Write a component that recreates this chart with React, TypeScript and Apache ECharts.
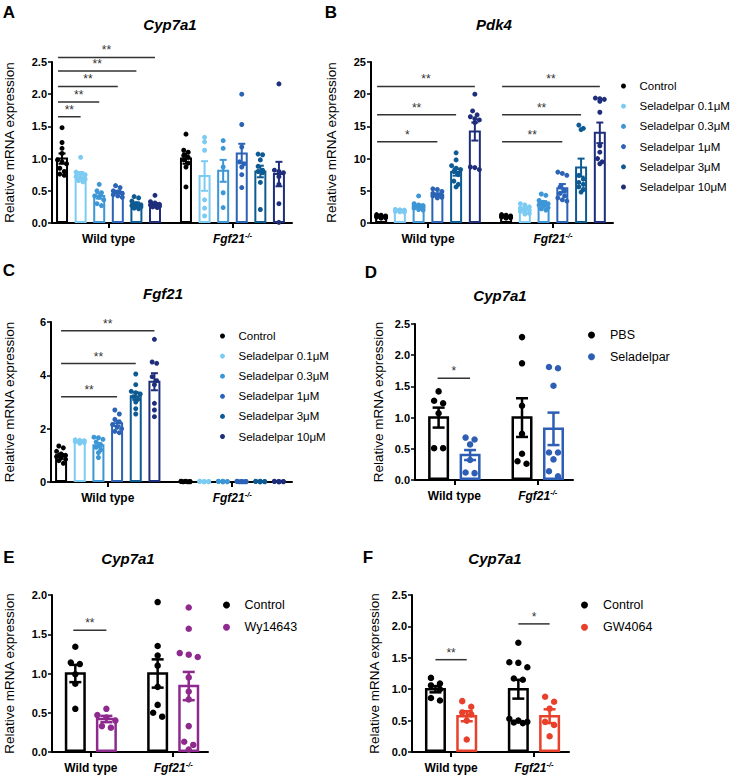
import React, { useEffect, useRef } from "react";
import * as echarts from "echarts";

const FONT = '"Liberation Sans", Arial, Helvetica, sans-serif';
const Y_NAME = "Relative mRNA expression";
const GENOTYPES = ["Wild type", "Fgf21-/-"];

const SELA_GROUPS = ["Control", "Seladelpar 0.1μM", "Seladelpar 0.3μM", "Seladelpar 1μM", "Seladelpar 3μM", "Seladelpar 10μM"];
const SELA_COLORS = ["#000000", "#7CCBF2", "#3D96D6", "#2B63B6", "#0E5B93", "#1F2E7C"];

// ---------- Panel A: Cyp7a1 (Seladelpar dose) ----------
const A_Y_TICKS = ["0.0", "0.5", "1.0", "1.5", "2.0", "2.5"];
const A_MEAN_WT = [1.0, 0.75, 0.42, 0.48, 0.3, 0.29];
const A_SEM_WT = [0.08, 0.04, 0.04, 0.02, 0.02, 0.02];
const A_MEAN_KO = [1.0, 0.73, 0.81, 1.08, 0.8, 0.76];
const A_SEM_KO = [0.08, 0.23, 0.17, 0.15, 0.09, 0.19];
const A_PTS_WT = [
  [1.48, 1.25, 1.16, 1.08, 0.98, 0.95, 0.92, 0.85, 0.8, 0.76, 0.74],
  [1.02, 0.79, 0.77, 0.75, 0.72, 0.7, 0.68, 0.66, 0.64],
  [0.6, 0.5, 0.47, 0.42, 0.4, 0.36, 0.3, 0.27],
  [0.58, 0.55, 0.5, 0.48, 0.46, 0.44, 0.42, 0.4],
  [0.41, 0.39, 0.34, 0.3, 0.28, 0.27, 0.26, 0.25, 0.23, 0.22],
  [0.43, 0.33, 0.31, 0.29, 0.28, 0.27, 0.26, 0.25, 0.24],
];
const A_PTS_KO = [
  [1.38, 1.13, 1.1, 1.05, 1.02, 0.98, 0.93, 0.87, 0.56],
  [1.33, 1.26, 1.13, 0.36, 0.23, 0.11],
  [1.28, 1.16, 0.87, 0.47, 0.24],
  [2.0, 1.53, 1.18, 0.95, 0.92, 0.87, 0.75, 0.55],
  [1.07, 1.06, 0.98, 0.88, 0.82, 0.8, 0.78, 0.63, 0.21],
  [2.16, 0.82, 0.8, 0.78, 0.72, 0.6, 0.3, 0.01],
];
// [genotype, fromBar, toBar, y, label]
const A_SIG: [number, number, number, number, string][] = [
  [0, 0, 1, 1.65, "**"],
  [0, 0, 2, 1.88, "**"],
  [0, 0, 3, 2.12, "**"],
  [0, 0, 4, 2.36, "**"],
  [0, 0, 5, 2.57, "**"],
];

// ---------- Panel B: Pdk4 ----------
const B_Y_TICKS = ["0", "5", "10", "15", "20", "25"];
const B_MEAN_WT = [1.0, 2.0, 2.6, 4.4, 7.9, 14.2];
const B_SEM_WT = [0.05, 0.06, 0.25, 0.2, 0.55, 1.4];
const B_MEAN_KO = [1.0, 2.2, 3.1, 5.4, 8.6, 14.0];
const B_SEM_KO = [0.05, 0.2, 0.3, 0.65, 1.4, 1.6];
const B_PTS_WT = [
  [1.3, 1.2, 1.1, 1.05, 1.0, 0.95, 0.9, 0.85, 0.8, 0.75],
  [2.1, 2.05, 2.0, 1.95, 1.9, 1.85, 1.8, 1.75, 1.7],
  [4.2, 3.0, 2.8, 2.7, 2.6, 2.5, 2.4, 2.3, 2.1, 2.0],
  [5.3, 5.2, 4.9, 4.6, 4.4, 4.3, 4.2, 4.1, 4.0, 3.9],
  [10.9, 9.8, 8.9, 8.5, 8.3, 8.0, 7.5, 6.5, 6.0, 5.6],
  [20.0, 17.4, 16.8, 16.5, 16.2, 16.0, 15.6, 8.7, 8.6, 8.3],
];
const B_PTS_KO = [
  [1.3, 1.2, 1.1, 1.05, 1.0, 0.95, 0.9, 0.85, 0.8, 0.75],
  [3.0, 2.8, 2.5, 2.3, 2.1, 2.0, 1.8, 1.6, 1.5, 1.4],
  [4.5, 4.3, 3.5, 3.2, 3.0, 2.8, 2.6, 2.4, 2.2, 2.0],
  [7.9, 7.7, 7.4, 5.6, 5.0, 4.6, 4.2, 3.9, 3.6, 3.4],
  [15.2, 14.7, 14.5, 7.4, 6.8, 6.3, 6.0, 5.6, 5.2, 4.8],
  [19.4, 19.3, 19.2, 18.9, 17.2, 12.0, 11.0, 10.0, 9.5, 9.2],
];
const B_SIG: [number, number, number, number, string][] = [
  [0, 0, 3, 12.6, "*"],
  [0, 0, 4, 16.8, "**"],
  [0, 0, 5, 21.2, "**"],
  [1, 0, 3, 12.6, "**"],
  [1, 0, 4, 16.8, "**"],
  [1, 0, 5, 21.2, "**"],
];

// ---------- Panel C: Fgf21 ----------
const C_Y_TICKS = ["0", "2", "4", "6"];
const C_MEAN_WT = [1.0, 1.51, 1.38, 2.2, 3.22, 3.76];
const C_SEM_WT = [0.05, 0.02, 0.08, 0.1, 0.14, 0.32];
const C_MEAN_KO = [0.02, 0.02, 0.02, 0.02, 0.02, 0.02];
const C_SEM_KO = [0.0, 0.0, 0.0, 0.0, 0.0, 0.0];
const C_PTS_WT = [
  [1.35, 1.28, 1.15, 1.05, 1.0, 0.95, 0.9, 0.85, 0.8, 0.7],
  [1.58, 1.56, 1.55, 1.52, 1.5, 1.48, 1.45],
  [1.68, 1.66, 1.6, 1.5, 1.4, 1.3, 1.2, 1.1, 0.92],
  [2.7, 2.55, 2.35, 2.25, 2.15, 2.05, 2.0, 1.9, 1.85],
  [4.05, 3.65, 3.4, 3.35, 3.3, 3.2, 3.1, 3.0, 2.75, 2.55],
  [5.35, 4.5, 4.45, 3.95, 3.8, 3.65, 2.95, 2.7, 2.45],
];
const C_PTS_KO = [
  [0.03, 0.03, 0.02, 0.02, 0.02, 0.01, 0.01, 0.01],
  [0.03, 0.02, 0.02, 0.02, 0.01, 0.01, 0.01],
  [0.03, 0.03, 0.02, 0.02, 0.01, 0.01, 0.01],
  [0.03, 0.02, 0.02, 0.02, 0.01, 0.01, 0.01, 0.01],
  [0.03, 0.03, 0.02, 0.02, 0.01, 0.01, 0.01],
  [0.03, 0.02, 0.02, 0.02, 0.01, 0.01, 0.01],
];
const C_SIG: [number, number, number, number, string][] = [
  [0, 0, 3, 3.2, "**"],
  [0, 0, 4, 4.44, "**"],
  [0, 0, 5, 5.67, "**"],
];

// ---------- Panel D: Cyp7a1, PBS vs Seladelpar ----------
const D_GROUPS = ["PBS", "Seladelpar"];
const D_COLORS = ["#000000", "#2D5EB4"];
const D_Y_TICKS = ["0.0", "0.5", "1.0", "1.5", "2.0", "2.5"];
const D_MEAN_WT = [1.0, 0.4];
const D_SEM_WT = [0.16, 0.08];
const D_MEAN_KO = [1.0, 0.82];
const D_SEM_KO = [0.31, 0.26];
const D_PTS_WT = [
  [1.42, 1.27, 1.23, 1.07, 0.51, 0.51],
  [0.68, 0.65, 0.57, 0.32, 0.12, 0.11],
];
const D_PTS_KO = [
  [2.29, 1.87, 1.19, 0.74, 0.42, 0.3, 0.26],
  [1.81, 1.79, 1.51, 0.44, 0.44, 0.33, 0.14, 0.06],
];
const D_SIG: [number, number, number, number, string][] = [[0, 0, 1, 1.63, "*"]];

// ---------- Panel E: Cyp7a1, Control vs Wy14643 ----------
const E_GROUPS = ["Control", "Wy14643"];
const E_COLORS = ["#000000", "#8E2A8E"];
const E_Y_TICKS = ["0.0", "0.5", "1.0", "1.5", "2.0"];
const E_MEAN_WT = [1.0, 0.42];
const E_SEM_WT = [0.11, 0.04];
const E_MEAN_KO = [1.0, 0.84];
const E_SEM_KO = [0.18, 0.18];
const E_PTS_WT = [
  [1.34, 1.14, 1.12, 0.99, 0.87, 0.55],
  [0.55, 0.47, 0.44, 0.4, 0.33, 0.31],
];
const E_PTS_KO = [
  [1.91, 1.35, 1.23, 1.1, 0.83, 0.6, 0.5, 0.45],
  [1.84, 1.57, 1.26, 1.24, 1.21, 0.95, 0.77, 0.67, 0.33, 0.13, 0.09, 0.03],
];
const E_SIG: [number, number, number, number, string][] = [[0, 0, 1, 1.55, "**"]];

// ---------- Panel F: Cyp7a1, Control vs GW4064 ----------
const F_GROUPS = ["Control", "GW4064"];
const F_COLORS = ["#000000", "#E8402A"];
const F_Y_TICKS = ["0.0", "0.5", "1.0", "1.5", "2.0", "2.5"];
const F_MEAN_WT = [1.0, 0.57];
const F_SEM_WT = [0.05, 0.08];
const F_MEAN_KO = [1.0, 0.57];
const F_SEM_KO = [0.15, 0.11];
const F_PTS_WT = [
  [1.18, 1.09, 1.06, 1.0, 0.86, 0.82],
  [0.81, 0.72, 0.63, 0.6, 0.5, 0.2],
];
const F_PTS_KO = [
  [1.74, 1.43, 1.42, 1.35, 1.17, 1.15, 0.53, 0.5, 0.48, 0.47, 0.46],
  [0.88, 0.8, 0.69, 0.48, 0.43, 0.25],
];
const F_SIG: [number, number, number, number, string][] = [
  [0, 0, 1, 1.47, "**"],
  [1, 0, 1, 2.04, "*"],
];

// ---------- layout (positions only) ----------
const LAYOUT6 = {
  slots: [
    [0, 1, 2, 3, 4, 5],
    [6.667, 7.667, 8.667, 9.667, 10.667, 11.667],
  ],
  xMin: -0.54,
  xMax: 12.37,
};
const LAYOUT2 = {
  slots: [
    [0, 1],
    [2.65, 3.65],
  ],
  xMin: -0.75,
  xMax: 4.27,
};

type Panel = {
  letter: string;
  letterPos: [number, number];
  title: string;
  titlePos: [number, number];
  grid: { left: number; top: number; width: number; height: number };
  yTicks: string[];
  yNameGap: number;
  groups: string[];
  colors: string[];
  means: number[][];
  sems: number[][];
  points: number[][][];
  sig: [number, number, number, number, string][];
  layout: { slots: number[][]; xMin: number; xMax: number };
  barW: number;
  barLine: number;
  capW: number;
  sym: number;
  step: number;
  perRow: number;
  sigStart: number;
  legend?: { left: number; top: number; itemWidth: number; itemHeight: number; fontSize: number; lineHeight: number; gap: number };
};

const PANELS: Panel[] = [
  {
    letter: "A", letterPos: [9, 12], title: "Cyp7a1", titlePos: [170, 24],
    grid: { left: 52, top: 62, width: 240, height: 161 }, yTicks: A_Y_TICKS, yNameGap: 36,
    groups: SELA_GROUPS, colors: SELA_COLORS,
    means: [A_MEAN_WT, A_MEAN_KO], sems: [A_SEM_WT, A_SEM_KO], points: [A_PTS_WT, A_PTS_KO], sig: A_SIG,
    layout: LAYOUT6, barW: 10, barLine: 2, capW: 7, sym: 5, step: 4.5, perRow: 3, sigStart: -4,
  },
  {
    letter: "B", letterPos: [331, 12], title: "Pdk4", titlePos: [494, 24],
    grid: { left: 371, top: 62, width: 242, height: 161 }, yTicks: B_Y_TICKS, yNameGap: 33,
    groups: SELA_GROUPS, colors: SELA_COLORS,
    means: [B_MEAN_WT, B_MEAN_KO], sems: [B_SEM_WT, B_SEM_KO], points: [B_PTS_WT, B_PTS_KO], sig: B_SIG,
    layout: LAYOUT6, barW: 10, barLine: 2, capW: 7, sym: 5, step: 4.5, perRow: 3, sigStart: -4,
    legend: { left: 621, top: 79, itemWidth: 22, itemHeight: 5, fontSize: 11.5, lineHeight: 14, gap: 6.2 },
  },
  {
    letter: "C", letterPos: [9, 270], title: "Fgf21", titlePos: [163, 293],
    grid: { left: 51, top: 322, width: 241, height: 160 }, yTicks: C_Y_TICKS, yNameGap: 35,
    groups: SELA_GROUPS, colors: SELA_COLORS,
    means: [C_MEAN_WT, C_MEAN_KO], sems: [C_SEM_WT, C_SEM_KO], points: [C_PTS_WT, C_PTS_KO], sig: C_SIG,
    layout: LAYOUT6, barW: 10, barLine: 2, capW: 7, sym: 5, step: 4.5, perRow: 3, sigStart: 0,
    legend: { left: 220, top: 329, itemWidth: 22, itemHeight: 5, fontSize: 11.5, lineHeight: 14, gap: 6.1 },
  },
  {
    letter: "D", letterPos: [371, 272], title: "Cyp7a1", titlePos: [500, 295],
    grid: { left: 415, top: 324, width: 158, height: 156 }, yTicks: D_Y_TICKS, yNameGap: 30,
    groups: D_GROUPS, colors: D_COLORS,
    means: [D_MEAN_WT, D_MEAN_KO], sems: [D_SEM_WT, D_SEM_KO], points: [D_PTS_WT, D_PTS_KO], sig: D_SIG,
    layout: LAYOUT2, barW: 18.5, barLine: 2.5, capW: 12, sym: 6.5, step: 9, perRow: 3, sigStart: -1,
    legend: { left: 588, top: 327.5, itemWidth: 27, itemHeight: 7, fontSize: 12.5, lineHeight: 15, gap: 6.7 },
  },
  {
    letter: "E", letterPos: [9, 557], title: "Cyp7a1", titlePos: [128, 558],
    grid: { left: 52, top: 595, width: 156, height: 157 }, yTicks: E_Y_TICKS, yNameGap: 36,
    groups: E_GROUPS, colors: E_COLORS,
    means: [E_MEAN_WT, E_MEAN_KO], sems: [E_SEM_WT, E_SEM_KO], points: [E_PTS_WT, E_PTS_KO], sig: E_SIG,
    layout: LAYOUT2, barW: 18.5, barLine: 2.5, capW: 12, sym: 6.5, step: 9, perRow: 3, sigStart: -2,
    legend: { left: 223, top: 597.5, itemWidth: 26, itemHeight: 7, fontSize: 12.5, lineHeight: 15, gap: 7.3 },
  },
  {
    letter: "F", letterPos: [368, 557], title: "Cyp7a1", titlePos: [495, 558],
    grid: { left: 412, top: 595, width: 157, height: 157 }, yTicks: F_Y_TICKS, yNameGap: 31,
    groups: F_GROUPS, colors: F_COLORS,
    means: [F_MEAN_WT, F_MEAN_KO], sems: [F_SEM_WT, F_SEM_KO], points: [F_PTS_WT, F_PTS_KO], sig: F_SIG,
    layout: LAYOUT2, barW: 18.5, barLine: 2.5, capW: 12, sym: 6.5, step: 9, perRow: 3, sigStart: 0,
    legend: { left: 581, top: 597.5, itemWidth: 27, itemHeight: 7, fontSize: 12.5, lineHeight: 15, gap: 7.3 },
  },
];

// Prism-like row swarm: points close in y share a row and are spread symmetrically.
function swarmOffsets(values: number[], pxPerUnit: number, diam: number, step: number, perRow: number): number[] {
  const order = values.map((_, i) => i).sort((a, b) => values[b] - values[a]);
  const offs = new Array(values.length).fill(0);
  let row: number[] = [];
  let rowY = 0;
  const flush = () => {
    const n = row.length;
    row.forEach((id, j) => {
      offs[id] = (j - (n - 1) / 2) * step;
    });
    row = [];
  };
  for (const id of order) {
    const y = values[id] * pxPerUnit;
    if (row.length && (rowY - y >= diam * 0.9 || row.length >= perRow)) flush();
    if (!row.length) rowY = y;
    row.push(id);
  }
  flush();
  return offs;
}

function buildOption() {
  const grid: any[] = [];
  const xAxis: any[] = [];
  const yAxis: any[] = [];
  const series: any[] = [];
  const legend: any[] = [];
  const graphic: any[] = [];

  PANELS.forEach((p, gi) => {
    const nG = p.groups.length;
    const yMax = parseFloat(p.yTicks[p.yTicks.length - 1]);
    const yInt = parseFloat(p.yTicks[1]) - parseFloat(p.yTicks[0]);
    const pxPerSlot = p.grid.width / (p.layout.xMax - p.layout.xMin);
    const pxPerUnit = p.grid.height / yMax;
    const centers = p.layout.slots.map((s) => (s[0] + s[s.length - 1]) / 2);
    const dec = p.yTicks[0].includes(".") ? 1 : 0;

    grid.push({ ...p.grid });
    xAxis.push({
      type: "value",
      gridIndex: gi,
      min: p.layout.xMin,
      max: p.layout.xMax,
      axisLine: { show: true, onZero: false, lineStyle: { color: "#000", width: 2 } },
      axisTick: { show: true, customValues: centers, length: 5, lineStyle: { color: "#000", width: 2 } },
      axisLabel: {
        customValues: centers,
        margin: 8,
        formatter: (v: number) => {
          const gIdx = Math.abs(v - centers[0]) < Math.abs(v - centers[1]) ? 0 : 1;
          const name = GENOTYPES[gIdx];
          if (name.endsWith("-/-")) return "{i|" + name.replace("-/-", "") + "}{s|-/-}";
          return "{n|" + name + "}";
        },
        rich: {
          n: { fontSize: 12, fontWeight: "bold", fontFamily: FONT, color: "#000", lineHeight: 15 },
          i: { fontSize: 12, fontWeight: "bold", fontStyle: "italic", fontFamily: FONT, color: "#000", lineHeight: 15 },
          s: { fontSize: 7.5, fontWeight: "bold", fontStyle: "italic", fontFamily: FONT, color: "#000", verticalAlign: "top", lineHeight: 9 },
        },
      },
      splitLine: { show: false },
    });
    yAxis.push({
      type: "value",
      gridIndex: gi,
      min: 0,
      max: yMax,
      interval: yInt,
      axisLine: { show: true, onZero: false, lineStyle: { color: "#000", width: 2 } },
      axisTick: { show: true, length: 4, lineStyle: { color: "#000", width: 1.5 } },
      axisLabel: {
        fontWeight: "bold",
        fontSize: 11,
        fontFamily: FONT,
        color: "#000",
        margin: 5,
        formatter: (v: number) => v.toFixed(dec),
      },
      splitLine: { show: false },
      name: Y_NAME,
      nameLocation: "middle",
      nameGap: p.yNameGap,
      nameTextStyle: { fontSize: 13.5, fontFamily: FONT, color: "#000" },
    });

    // bars
    const barData: number[][] = [];
    const barColors: string[] = [];
    const errData: number[][] = [];
    for (let g = 0; g < 2; g++) {
      for (let k = 0; k < nG; k++) {
        const x = p.layout.slots[g][k];
        barData.push([x, p.means[g][k]]);
        errData.push([x, p.means[g][k], p.sems[g][k]]);
        barColors.push(p.colors[k]);
      }
    }
    series.push({
      type: "custom",
      xAxisIndex: gi,
      yAxisIndex: gi,
      silent: true,
      z: 2,
      encode: { x: 0, y: 1 },
      data: barData,
      renderItem: (params: any, api: any) => {
        const x = api.value(0);
        const m = api.value(1);
        const top = api.coord([x, m]);
        const base = api.coord([x, 0]);
        const h = Math.max(base[1] - top[1], 0.5);
        return {
          type: "rect",
          shape: { x: top[0] - p.barW / 2, y: top[1], width: p.barW, height: h - p.barLine / 2 },
          style: { fill: "#fff", stroke: barColors[params.dataIndex], lineWidth: p.barLine },
        };
      },
    });

    // points
    for (let k = 0; k < nG; k++) {
      const data: number[][] = [];
      for (let g = 0; g < 2; g++) {
        const vals = p.points[g][k];
        const offs = swarmOffsets(vals, pxPerUnit, p.sym, p.step, p.perRow);
        vals.forEach((v, i) => data.push([p.layout.slots[g][k] + offs[i] / pxPerSlot, v]));
      }
      series.push({
        type: "scatter",
        name: p.groups[k],
        xAxisIndex: gi,
        yAxisIndex: gi,
        z: 3,
        symbol: "circle",
        symbolSize: p.sym,
        itemStyle: { color: p.colors[k], opacity: 1 },
        data,
      });
    }

    // error bars
    series.push({
      type: "custom",
      xAxisIndex: gi,
      yAxisIndex: gi,
      silent: true,
      z: 4,
      encode: { x: 0, y: 1 },
      data: errData,
      renderItem: (params: any, api: any) => {
        const x = api.value(0);
        const m = api.value(1);
        const s = api.value(2);
        if (!(s > 0)) return null;
        const hi = api.coord([x, m + s]);
        const lo = api.coord([x, Math.max(m - s, 0)]);
        const c = barColors[params.dataIndex];
        const st = { stroke: c, lineWidth: p.barLine };
        return {
          type: "group",
          children: [
            { type: "line", shape: { x1: hi[0], y1: hi[1], x2: lo[0], y2: lo[1] }, style: st },
            { type: "line", shape: { x1: hi[0] - p.capW / 2, y1: hi[1], x2: hi[0] + p.capW / 2, y2: hi[1] }, style: st },
            { type: "line", shape: { x1: lo[0] - p.capW / 2, y1: lo[1], x2: lo[0] + p.capW / 2, y2: lo[1] }, style: st },
          ],
        };
      },
    });

    // significance
    const sigLabels = p.sig.map((s) => s[4]);
    series.push({
      type: "custom",
      xAxisIndex: gi,
      yAxisIndex: gi,
      silent: true,
      z: 5,
      clip: false,
      encode: { x: [0, 1], y: 2 },
      data: p.sig.map((s) => [p.layout.slots[s[0]][s[1]], p.layout.slots[s[0]][s[2]], s[3]]),
      renderItem: (params: any, api: any) => {
        const a = api.coord([api.value(0), api.value(2)]);
        const b = api.coord([api.value(1), api.value(2)]);
        const x1 = a[0] + p.sigStart;
        const x2 = b[0];
        return {
          type: "group",
          children: [
            { type: "line", shape: { x1, y1: a[1], x2, y2: a[1] }, style: { stroke: "#333", lineWidth: 1.5 } },
            {
              type: "text",
              x: (x1 + x2) / 2,
              y: a[1] - 1,
              style: { text: sigLabels[params.dataIndex], align: "center", verticalAlign: "bottom", fontSize: 12, fontFamily: FONT, fill: "#333" },
            },
          ],
        };
      },
    });

    if (p.legend) {
      legend.push({
        orient: "vertical",
        left: p.legend.left,
        top: p.legend.top,
        padding: 0,
        icon: "circle",
        itemWidth: p.legend.itemWidth,
        itemHeight: p.legend.itemHeight,
        itemGap: p.legend.gap,
        selectedMode: false,
        data: p.groups,
        textStyle: { fontSize: p.legend.fontSize, lineHeight: p.legend.lineHeight, fontFamily: FONT, color: "#000" },
      });
    }

    graphic.push({
      type: "text",
      x: p.letterPos[0],
      y: p.letterPos[1],
      style: { text: p.letter, align: "center", verticalAlign: "middle", fontSize: 17, fontWeight: "bold", fontFamily: FONT, fill: "#000" },
    });
    graphic.push({
      type: "text",
      x: p.titlePos[0],
      y: p.titlePos[1],
      style: { text: p.title, align: "center", verticalAlign: "middle", fontSize: 15, fontWeight: "bold", fontStyle: "italic", fontFamily: FONT, fill: "#000" },
    });
  });

  return {
    animation: false,
    backgroundColor: "#fff",
    textStyle: { fontFamily: FONT },
    grid,
    xAxis,
    yAxis,
    series,
    legend,
    graphic,
  };
}

export default function App() {
  const ref = useRef<HTMLDivElement>(null);
  useEffect(() => {
    document.body.style.margin = "0";
    if (!ref.current) return;
    const chart = echarts.init(ref.current, undefined, { renderer: "svg" });
    chart.setOption(buildOption() as any);
    return () => chart.dispose();
  }, []);
  return <div ref={ref} style={{ position: "absolute", left: 0, top: 0, width: 740, height: 777 }} />;
}
